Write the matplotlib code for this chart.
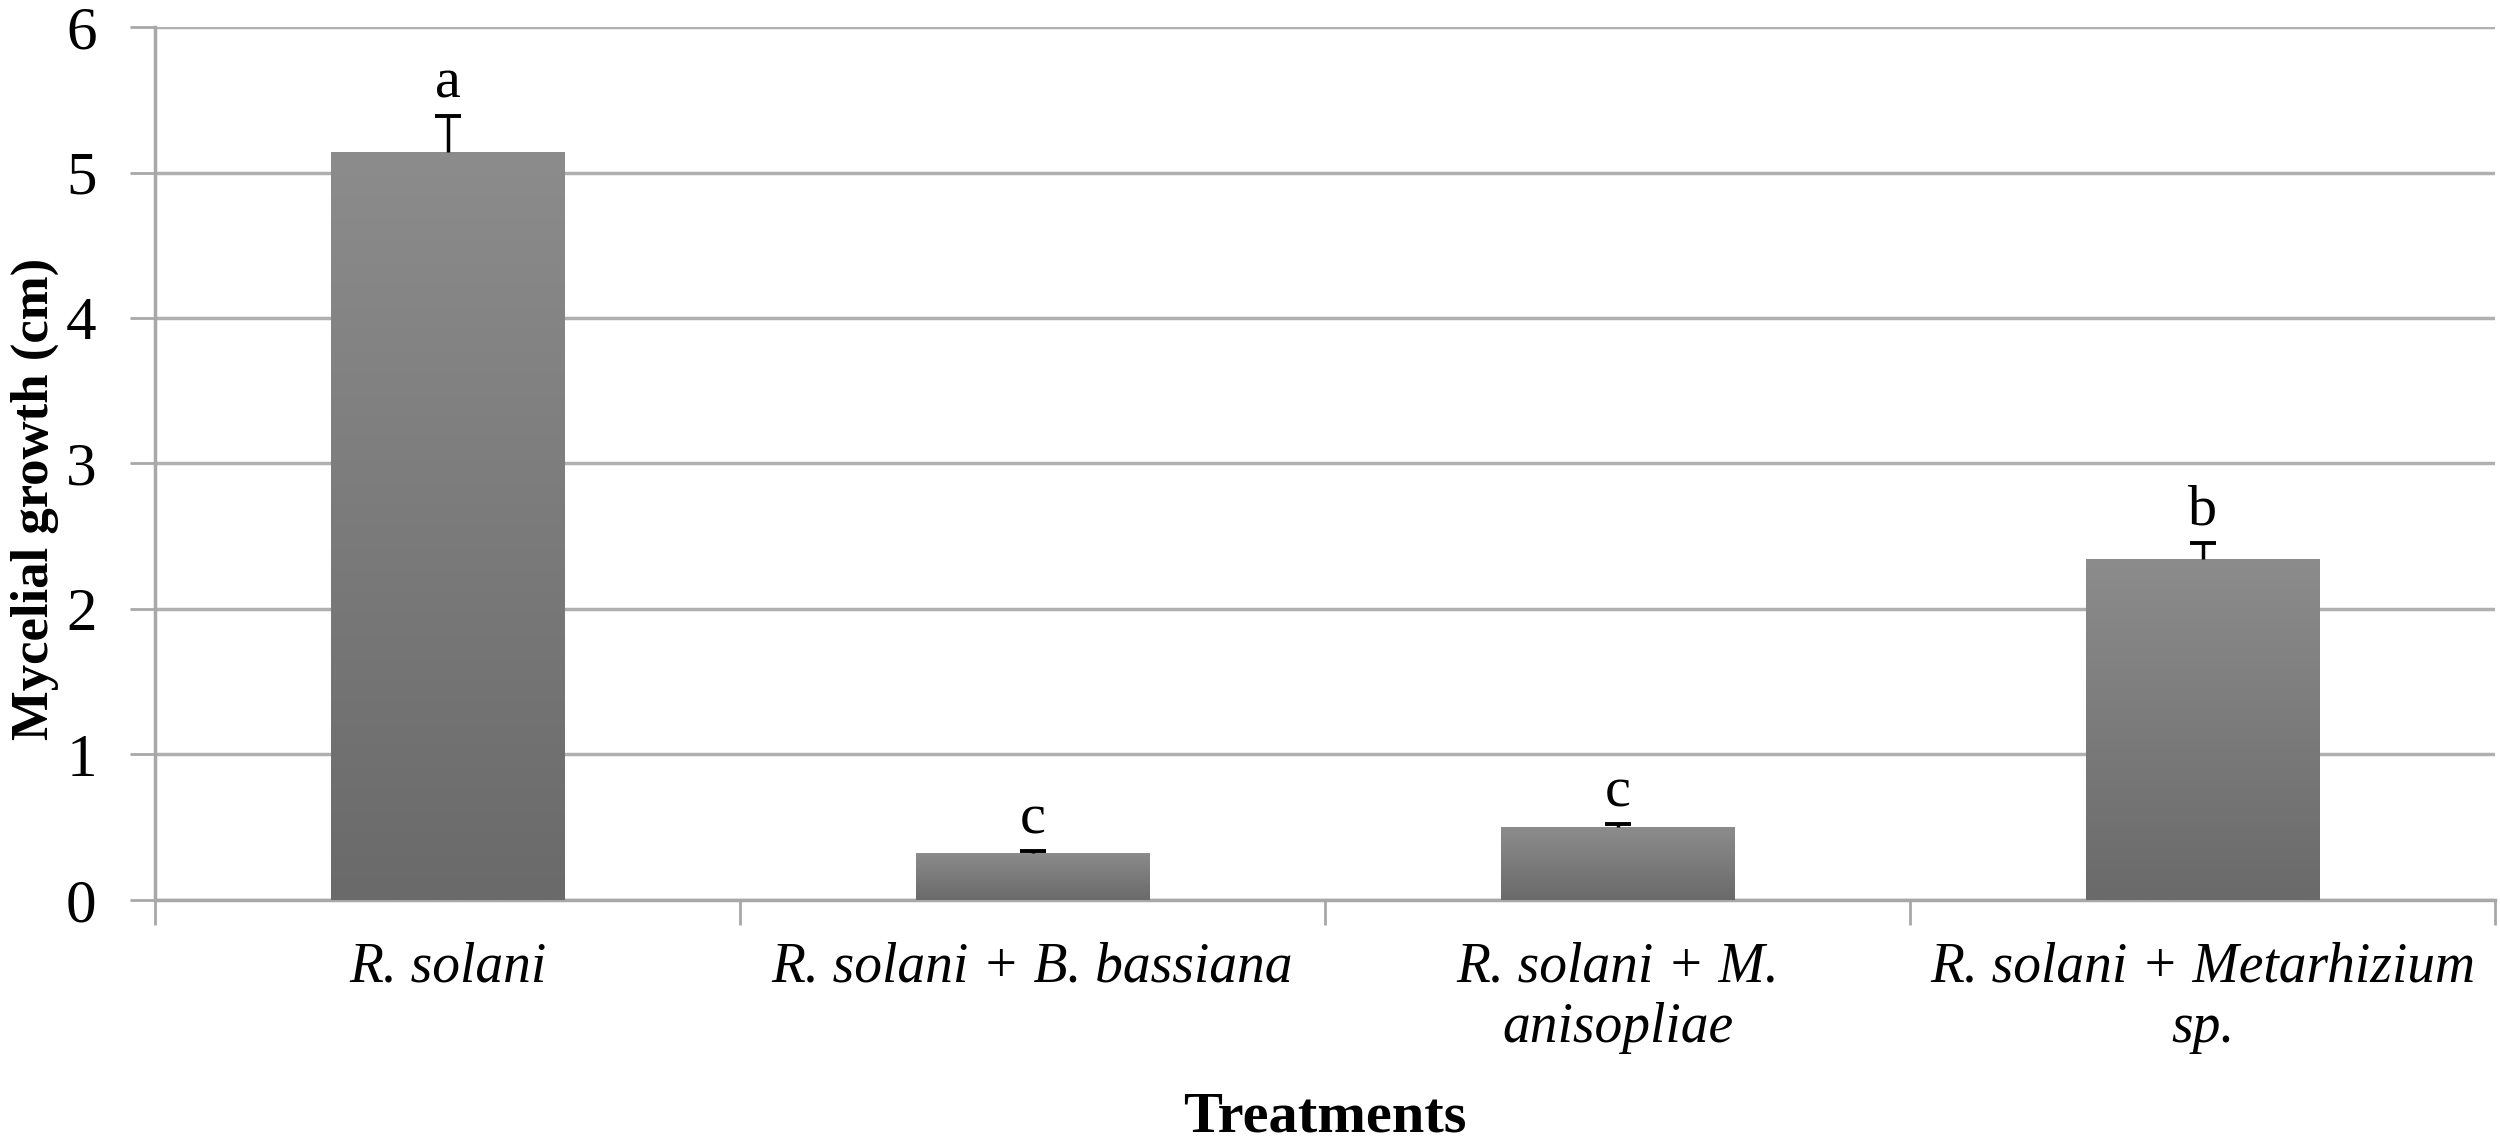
import matplotlib
matplotlib.use("Agg")
import matplotlib.pyplot as plt
import numpy as np

# data
treatments = ["R. solani", "R. solani + B. bassiana",
              "R. solani + M.\nanisopliae", "R. solani + Metarhizium\nsp."]
growth = [5.14, 0.325, 0.50, 2.345]
errors = [0.25, 0.01, 0.02, 0.11]
letters = ["a", "c", "c", "b"]

plt.rcParams["font.family"] = ["Liberation Serif", "DejaVu Serif"]

fig = plt.figure(figsize=(25, 11.46), dpi=100)
ax = fig.add_axes([0.062, 0.2147, 0.936, 0.7617])

x = np.arange(len(treatments))
bars = ax.bar(x, growth, width=0.4, color="#7a7a7a", zorder=3)

# vertical gradient fill on every bar, light at top, darker at bottom
cmap = matplotlib.colors.LinearSegmentedColormap.from_list("g", ["#6a6a6a", "#8c8c8c"])
grad = np.linspace(0, 1, 256).reshape(-1, 1)
for b in bars:
    x0, y0 = b.get_x(), b.get_y()
    w, h = b.get_width(), b.get_height()
    im = ax.imshow(grad, cmap=cmap, origin="lower", aspect="auto",
                   extent=(x0, x0 + w, y0, y0 + h), zorder=3.5)
    im.set_clip_path(b)

# upper error bars only, with a cap on top
tops = np.array(growth) + np.array(errors)
ax.errorbar(x, growth, yerr=[np.zeros(len(errors)), errors], fmt="none",
            ecolor="black", elinewidth=2.5, capsize=0, zorder=4)
ax.plot(x, tops, ls="none", marker="_", ms=19, mew=2.8, color="black", zorder=4)

for xi, t, lab in zip(x, tops, letters):
    ax.text(xi, t + 0.04, lab, ha="center", va="bottom", fontsize=42, zorder=5)

ax.set_xlim(-0.5, 3.5)
ax.set_ylim(0, 6)
ax.set_yticks(range(0, 7))
ax.tick_params(axis="y", labelsize=44, length=18, width=2, color="#a8a8a8", pad=24)

ax.set_xticks(x)
ax.set_xticklabels(treatments, fontsize=40, style="italic", linespacing=1.2)
ax.tick_params(axis="x", length=0, pad=30)
ax.set_xticks(np.arange(-0.5, 4.0, 1.0), minor=True)
ax.tick_params(axis="x", which="minor", length=18, width=2, color="#a8a8a8")

ax.grid(axis="y", color="#b0b0b0", linewidth=2.5, zorder=0)
ax.set_axisbelow(True)
for s in ["top", "right"]:
    ax.spines[s].set_visible(False)
for s in ["left", "bottom"]:
    ax.spines[s].set_color("#a8a8a8")
    ax.spines[s].set_linewidth(2.5)

ax.set_ylabel("Mycelial growth (cm)", fontsize=38, fontweight="bold")
ax.yaxis.set_label_coords(-0.041, 0.46)
ax.set_xlabel("Treatments", fontsize=42, fontweight="bold", labelpad=27)

fig.savefig("out.png", dpi=100, facecolor="white")
